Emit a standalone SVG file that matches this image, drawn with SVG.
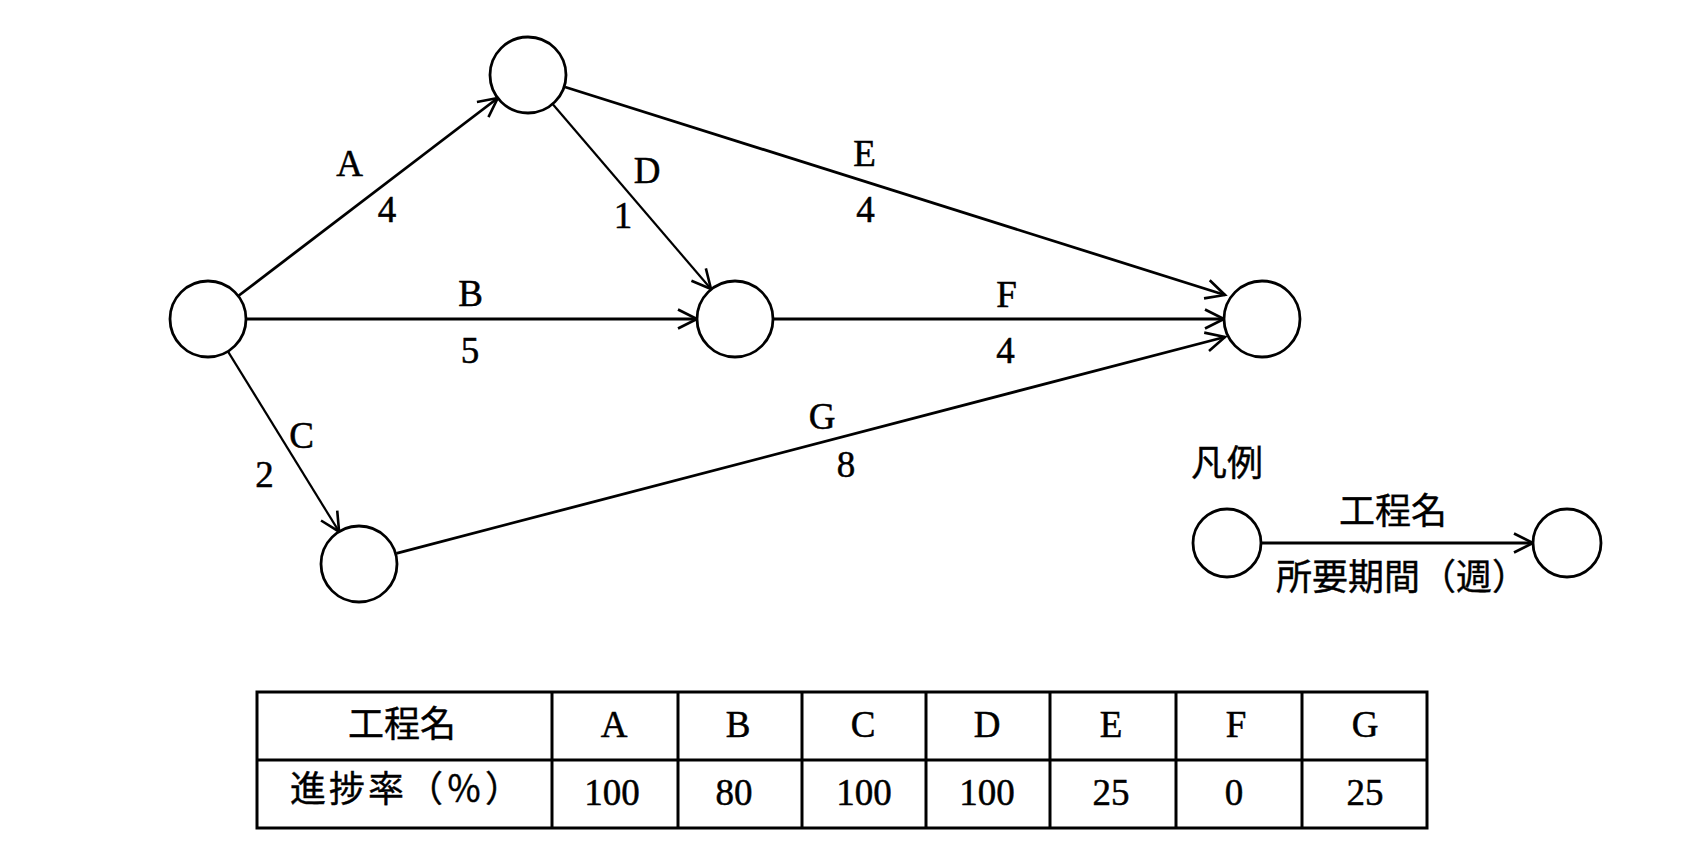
<svg xmlns="http://www.w3.org/2000/svg" width="1698" height="865" viewBox="0 0 1698 865">
<defs>
<style>
.node{fill:#fff;stroke:#000;stroke-width:2.8}
.edge{fill:none;stroke:#000;stroke-width:2.8}
.thin{stroke-width:2.2}
.lbl{font-family:"Liberation Serif","Times New Roman",serif;font-size:37px;fill:#000;stroke:#000;stroke-width:0.5;text-anchor:middle}
.jp{font-family:"Noto Sans CJK JP","Noto Sans CJK SC",sans-serif;font-size:36px;fill:#000;stroke:#000;stroke-width:0.4}
.tbl{fill:none;stroke:#000;stroke-width:3}
</style>
<marker id="arr" markerUnits="userSpaceOnUse" markerWidth="30" markerHeight="30" viewBox="-25 -15 30 30" refX="0" refY="0" orient="auto" overflow="visible">
<path d="M-19,-9.5 L0,0 L-19,9.5" fill="none" stroke="#000" stroke-width="2.6"/>
</marker>
</defs>
<rect width="1698" height="865" fill="#fff"/>

<g id="connectors">
<line class="edge" x1="238.2" y1="296" x2="497.8" y2="98" marker-end="url(#arr)"/>
<line class="edge" x1="246" y1="319" x2="697" y2="319" marker-end="url(#arr)"/>
<line class="edge thin" x1="227.9" y1="351.3" x2="339.1" y2="531.7" marker-end="url(#arr)"/>
<line class="edge thin" x1="552.6" y1="104" x2="711" y2="289" marker-end="url(#arr)"/>
<line class="edge" x1="565" y1="87" x2="1225" y2="295" marker-end="url(#arr)"/>
<line class="edge" x1="773" y1="319" x2="1224" y2="319" marker-end="url(#arr)"/>
<line class="edge" x1="396.4" y1="553.3" x2="1225" y2="337" marker-end="url(#arr)"/>
<line class="edge" x1="1261" y1="543" x2="1533" y2="543" marker-end="url(#arr)"/>
</g>

<g id="labels">
<text class="lbl" x="349.5" y="176">A</text>
<text class="lbl" x="387" y="222">4</text>
<text class="lbl" x="470.5" y="306">B</text>
<text class="lbl" x="470" y="363">5</text>
<text class="lbl" x="301.5" y="448">C</text>
<text class="lbl" x="264.5" y="487">2</text>
<text class="lbl" x="647" y="183">D</text>
<text class="lbl" x="623" y="228">1</text>
<text class="lbl" x="864.5" y="166">E</text>
<text class="lbl" x="865.5" y="222">4</text>
<text class="lbl" x="1006.5" y="307">F</text>
<text class="lbl" x="1005.5" y="363">4</text>
<text class="lbl" x="822" y="429">G</text>
<text class="lbl" x="846" y="477">8</text>
</g>

<g id="n1"><circle class="node" cx="208" cy="319" r="38"/></g>
<g id="n2"><circle class="node" cx="528" cy="75" r="38"/></g>
<g id="n3"><circle class="node" cx="735" cy="319" r="38"/></g>
<g id="n4"><circle class="node" cx="1262" cy="319" r="38"/></g>
<g id="n5"><circle class="node" cx="359" cy="564" r="38"/></g>

<g id="legend">
<text class="jp" x="1191" y="476">凡例</text>
<circle class="node" cx="1227" cy="543" r="34"/>
<circle class="node" cx="1567" cy="543" r="34"/>
<text class="jp" x="1393" y="524" text-anchor="middle">工程名</text>
<text class="jp" x="1276" y="590">所要期間（週）</text>
</g>

<g id="table">
<rect class="tbl" x="257" y="692" width="1170" height="136"/>
<line class="tbl" x1="257" y1="760" x2="1427" y2="760"/>
<line class="tbl" x1="552" y1="692" x2="552" y2="828"/>
<line class="tbl" x1="678" y1="692" x2="678" y2="828"/>
<line class="tbl" x1="802" y1="692" x2="802" y2="828"/>
<line class="tbl" x1="926" y1="692" x2="926" y2="828"/>
<line class="tbl" x1="1050" y1="692" x2="1050" y2="828"/>
<line class="tbl" x1="1176" y1="692" x2="1176" y2="828"/>
<line class="tbl" x1="1302" y1="692" x2="1302" y2="828"/>
<text class="jp" x="402" y="737" text-anchor="middle">工程名</text>
<text class="jp" x="290" y="802" letter-spacing="3">進捗率（％）</text>
<text class="lbl" x="614" y="737">A</text>
<text class="lbl" x="738" y="737">B</text>
<text class="lbl" x="863" y="737">C</text>
<text class="lbl" x="987" y="737">D</text>
<text class="lbl" x="1111" y="737">E</text>
<text class="lbl" x="1236" y="737">F</text>
<text class="lbl" x="1365" y="737">G</text>
<text class="lbl" x="612" y="805">100</text>
<text class="lbl" x="734" y="805">80</text>
<text class="lbl" x="864" y="805">100</text>
<text class="lbl" x="987" y="805">100</text>
<text class="lbl" x="1111" y="805">25</text>
<text class="lbl" x="1234" y="805">0</text>
<text class="lbl" x="1365" y="805">25</text>
</g>
</svg>
